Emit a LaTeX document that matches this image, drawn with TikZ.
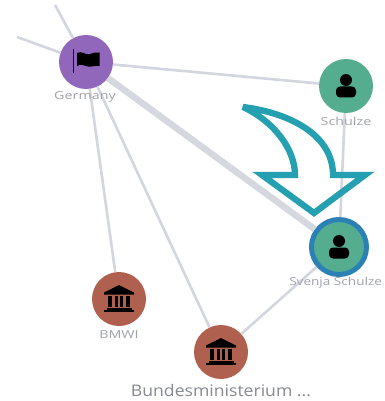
\documentclass[tikz,border=0pt]{standalone}
\usepackage{fontspec}
\setmainfont{Open Sans}
\definecolor{edgegrey}{HTML}{D3D6DF}
\definecolor{thickgrey}{HTML}{D6D8DF}
\definecolor{purplenode}{HTML}{9167BB}
\definecolor{greennode}{HTML}{55AD90}
\definecolor{rednode}{HTML}{B0604F}
\definecolor{bluering}{HTML}{2B80B5}
\definecolor{tealarrow}{HTML}{25A0B0}
\definecolor{labelgrey}{HTML}{A0A3AA}
\tikzset{
  x=1pt,y=-1pt,
  entity/.style={circle,minimum size=54pt,inner sep=0pt,draw=none},
  edgeline/.style={draw=edgegrey,line width=2.6pt},
  smalllabel/.style={text=labelgrey,font=\fontsize{11}{12}\selectfont,inner sep=0pt,xscale=1.3},
  pics/person/.style={code={
    \fill[black] (0,-6) circle (6);
    \fill[black,rounded corners=4pt] (-10,11.5) -- (-10,0.5) -- (10,0.5) -- (10,11.5) -- cycle;
  }},
  pics/bank/.style={code={
    \fill[black] (-15,-6.5) -- (0,-14) -- (15,-6.5) -- (15,-4.5) -- (-15,-4.5) -- cycle;
    \fill[black] (-11,-3) rectangle (-7,8);
    \fill[black] (-3.8,-3) rectangle (-0.9,8);
    \fill[black] (0.9,-3) rectangle (3.8,8);
    \fill[black] (7,-3) rectangle (11,8);
    \fill[black] (-12.5,8.5) rectangle (12.5,10.5);
    \fill[black] (-15,11) rectangle (15,13);
  }},
  pics/flag/.style={code={
    \fill[black!85!purplenode] (-13,-13) rectangle (-11.6,11);
    \fill[black] (-9,-9) .. controls (-4,-12) and (0,-6) .. (4,-8) .. controls (7,-9) and (10,-10) .. (13.5,-9.5) -- (13.5,4) .. controls (8,3) and (5,6) .. (0,4) .. controls (-3,3) and (-6,2) .. (-9,4) -- cycle;
  }}
}
\begin{document}
\begin{tikzpicture}
\useasboundingbox[fill=white] (0,0) rectangle (384,401);
\coordinate (freeA) at (55,5);
\coordinate (freeB) at (17,37);
\node[entity,fill=purplenode] (germany) at (86,62) {};
\node[entity,fill=greennode] (schulze) at (346,86) {};
\node[entity,fill=greennode,draw=bluering,line width=5pt,minimum size=55pt] (svenja) at (339,247) {};
\node[entity,fill=rednode] (bmwi) at (119,299) {};
\node[entity,fill=rednode] (bund) at (221,352) {};
\draw[edgeline] (freeA) -- (germany);
\draw[edgeline] (freeB) -- (germany);
\draw[edgeline] (germany) -- (schulze);
\draw[edgeline] (schulze) -- (svenja);
\draw[edgeline] (germany) -- (bmwi);
\draw[edgeline] (germany) -- (bund);
\draw[edgeline] (bund) -- (svenja);
\draw[draw=thickgrey,line width=6.5pt] (germany) -- (svenja);
\pic at (germany.center) {flag};
\pic at (schulze.center) {person};
\pic at (svenja.center) {person};
\pic at (bmwi.center) {bank};
\pic at (bund.center) {bank};
\node[smalllabel] (lgermany) at (85,97) {Germany};
\node[smalllabel] (lschulze) at (346,121) {Schulze};
\node[smalllabel,anchor=west,xscale=0.95] (lsvenja) at (289,283) {Svenja Schulze};
\node[smalllabel] (lbmwi) at (119,335) {BMWI};
\node[text=labelgrey!85!black,font=\fontsize{16}{18}\selectfont,inner sep=0pt,xscale=1.1] (lbund) at (221,391) {Bundesministerium ...};
\draw[tealarrow,line width=6.3pt,line join=miter,miter limit=6]
  (243,107) .. controls (290,113) and (333,135) .. (333,175)
  -- (365,175) -- (314,213) -- (262,175) -- (295,175)
  .. controls (295,150) and (275,122) .. cycle;
\end{tikzpicture}
\end{document}
